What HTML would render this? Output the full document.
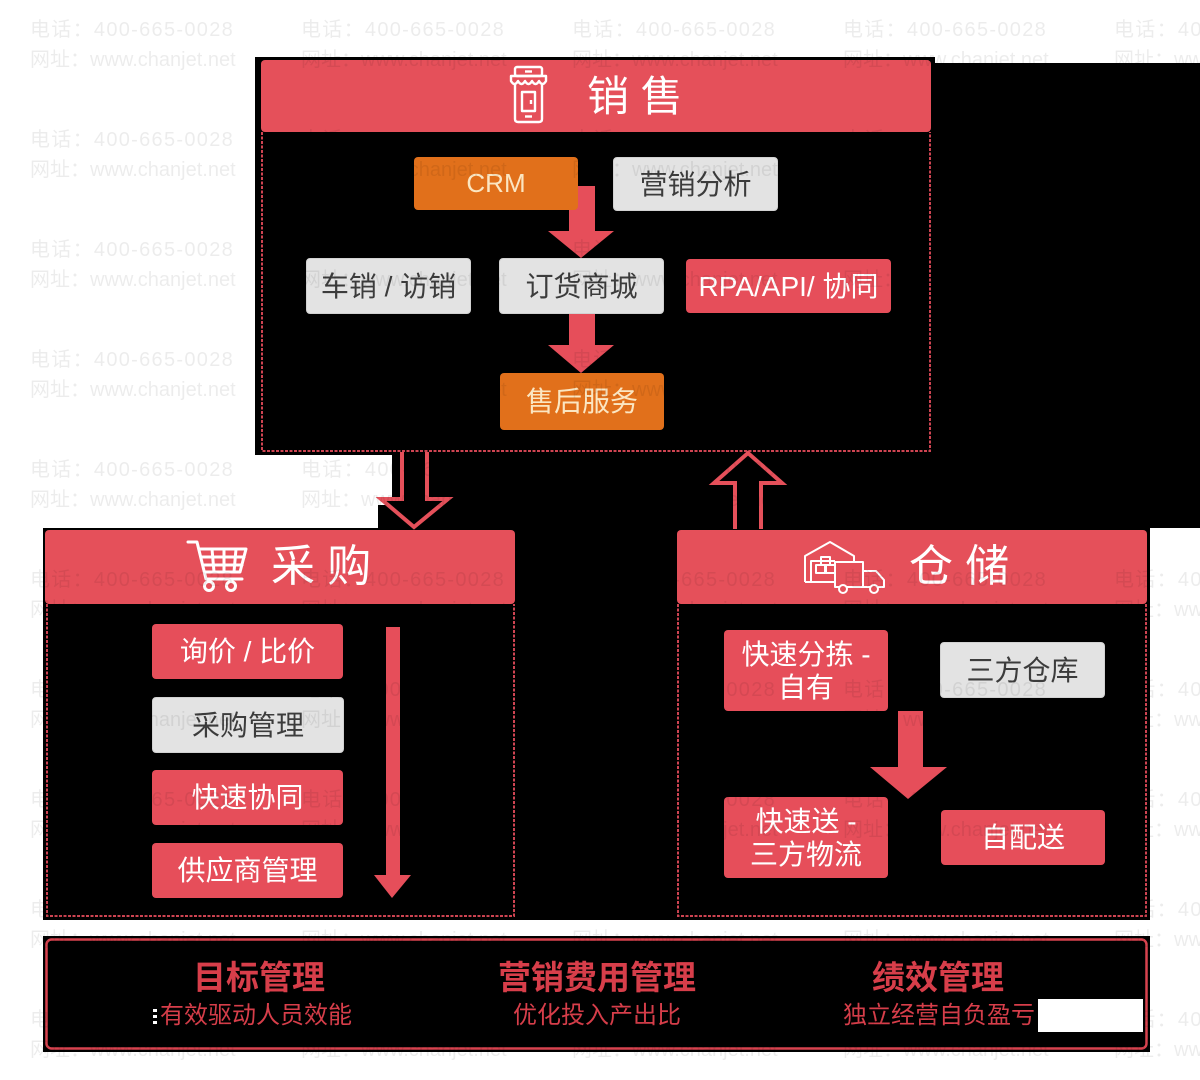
<!DOCTYPE html>
<html><head><meta charset="utf-8">
<style>
*{margin:0;padding:0;box-sizing:border-box}
html,body{width:1200px;height:1080px;overflow:hidden;background:#fff}
body{position:relative;font-family:"Liberation Sans","Noto Sans CJK SC",sans-serif}
svg.bg{position:absolute;left:0;top:0}
.b{position:absolute;display:flex;align-items:center;justify-content:center;text-align:center;border-radius:4px;font-size:28px;line-height:33px;white-space:nowrap}
.g{background:#e3e3e3;color:#3c3c3c;border:1px solid #d2d2d2}
.r{background:#e64e5a;color:#fff}
.o{background:#e1701b;color:#fbe6c2}
.t{position:absolute;color:#fff;font-size:42px;line-height:50px;white-space:nowrap}
.bt{position:absolute;color:#d73e4a;text-align:center;white-space:nowrap;transform:translateX(-50%)}
.bt1{font-size:33px;line-height:40px;font-weight:bold}
.bt2{font-size:24px;line-height:30px}
.wm{position:absolute;top:15px;color:rgba(0,0,0,0.075);font-size:20px;white-space:nowrap}
.wm div{height:110px;line-height:30px}
.wm span{letter-spacing:1.3px}
</style></head>
<body>
<svg class="bg" width="1200" height="1080" viewBox="0 0 1200 1080">
  <!-- black regions -->
  <path d="M255,57 H935 V63 H1200 V528 H1150 V920 H43 V528 H378 V505 H392 V455 H255 Z" fill="#000"/>
  <rect x="43" y="936" width="1107" height="116" fill="#000"/>
  <rect x="46.5" y="939.5" width="1100" height="109" rx="5" fill="none" stroke="#d8434f" stroke-width="2.5"/>

  <!-- sales -->
  <rect x="261" y="60" width="670" height="72" rx="4" fill="#e5505a"/>
  <path d="M262,132 V451 H930 V132" fill="none" stroke="#cf4452" stroke-width="2" stroke-dasharray="3 1.5"/>
  <!-- purchase -->
  <rect x="45" y="530" width="470" height="74" rx="4" fill="#e5505a"/>
  <path d="M47,604 V916 H514 V604" fill="none" stroke="#cf4452" stroke-width="2" stroke-dasharray="3 1.5"/>
  <!-- warehouse -->
  <rect x="677" y="530" width="470" height="74" rx="4" fill="#e5505a"/>
  <path d="M678,604 V916 H1146 V604" fill="none" stroke="#cf4452" stroke-width="2" stroke-dasharray="3 1.5"/>

  <!-- big outline arrows -->
  <polyline points="402,452 402,499 381,499 414,527 448,499 427,499 427,452" fill="#000" stroke="#e5505a" stroke-width="4" stroke-linejoin="miter"/>
  <polyline points="735,529 735,483 714,483 748,453 782,483 761,483 761,529" fill="#000" stroke="#e5505a" stroke-width="4" stroke-linejoin="miter"/>

  <!-- sales arrows -->
  <rect x="569" y="186" width="26" height="46" fill="#e64e5a"/>
  <polygon points="548,231 614,231 581,258" fill="#e64e5a"/>
  <rect x="569" y="313" width="26" height="33" fill="#e64e5a"/>
  <polygon points="548,345 614,345 581,373" fill="#e64e5a"/>

  <!-- purchase arrow -->
  <rect x="386" y="627" width="14" height="249" fill="#e64e5a"/>
  <polygon points="374,875 411,875 392,898" fill="#e64e5a"/>

  <!-- warehouse arrow -->
  <rect x="898" y="711" width="25" height="57" fill="#e64e5a"/>
  <polygon points="870,767 947,767 908,799" fill="#e64e5a"/>

  <!-- sales icon -->
  <g fill="none" stroke="#fff" stroke-width="2.4" stroke-linejoin="round">
    <rect x="515" y="67" width="27" height="9" rx="2"/>
    <line x1="525" y1="71.5" x2="532" y2="71.5"/>
    <path d="M511,76 H546 V81 Q542.5,87 539,81 Q535.5,87 532,81 Q528.5,87 525,81 Q521.5,87 518,81 Q514.5,87 511,81 Z"/>
    <path d="M515,85 V119 Q515,122 518,122 H539 Q542,122 542,119 V85"/>
    <rect x="522" y="92" width="13" height="19"/>
    <line x1="531" y1="100" x2="531" y2="104"/>
    <line x1="525" y1="116.5" x2="532" y2="116.5"/>
  </g>

  <!-- cart icon -->
  <g fill="none" stroke="#fff" stroke-width="3" stroke-linejoin="round" stroke-linecap="round">
    <path d="M188,542 H197 L206,579 H242"/>
    <path d="M199,549 H246 L240,572 H205"/>
    <line x1="212" y1="549" x2="214" y2="572"/>
    <line x1="224" y1="549" x2="224" y2="572"/>
    <line x1="236" y1="549" x2="234" y2="572"/>
    <line x1="201" y1="557" x2="244" y2="557"/>
    <line x1="203" y1="565" x2="242" y2="565"/>
    <circle cx="209" cy="586" r="4.5"/>
    <circle cx="231" cy="586" r="4.5"/>
  </g>

  <!-- warehouse icon -->
  <g fill="none" stroke="#fff" stroke-width="2" stroke-linejoin="round">
    <path d="M805,582 V556 L830,542 L854,556 V562"/>
    <path d="M811,582 V561 H835"/>
    <rect x="816" y="565" width="9" height="8"/>
    <rect x="821" y="557" width="9" height="8"/>
    <rect x="826" y="565" width="9" height="8"/>
    <line x1="805" y1="582" x2="835" y2="582"/>
    <rect x="835" y="562" width="28" height="25"/>
    <path d="M863,571 H876 L884,580 V587 H863"/>
    <circle cx="843" cy="589" r="4" fill="#e5505a"/>
    <circle cx="874" cy="589" r="4" fill="#e5505a"/>
  </g>
</svg>

<!-- header titles -->
<div class="t" style="left:587px;top:72px">销 售</div>
<div class="t" style="left:271px;top:542px;font-size:44px">采 购</div>
<div class="t" style="left:909px;top:542px;font-size:44px">仓 储</div>

<!-- sales boxes -->
<div class="b o" style="left:414px;top:157px;width:164px;height:53px;font-size:26px">CRM</div>
<div class="b g" style="left:613px;top:157px;width:165px;height:54px">营销分析</div>
<div class="b g" style="left:306px;top:258px;width:165px;height:56px">车销 / 访销</div>
<div class="b g" style="left:499px;top:258px;width:165px;height:56px">订货商城</div>
<div class="b r" style="left:686px;top:259px;width:205px;height:54px">RPA/API/ 协同</div>
<div class="b o" style="left:500px;top:373px;width:164px;height:57px">售后服务</div>

<!-- purchase boxes -->
<div class="b r" style="left:152px;top:624px;width:191px;height:55px">询价 / 比价</div>
<div class="b g" style="left:152px;top:697px;width:192px;height:56px">采购管理</div>
<div class="b r" style="left:152px;top:770px;width:191px;height:55px">快速协同</div>
<div class="b r" style="left:152px;top:843px;width:191px;height:55px">供应商管理</div>

<!-- warehouse boxes -->
<div class="b r" style="left:724px;top:630px;width:164px;height:81px">快速分拣 -<br>自有</div>
<div class="b g" style="left:940px;top:642px;width:165px;height:56px">三方仓库</div>
<div class="b r" style="left:724px;top:797px;width:164px;height:81px">快速送 -<br>三方物流</div>
<div class="b r" style="left:941px;top:810px;width:164px;height:55px">自配送</div>

<!-- bottom bar text -->
<div class="bt bt1" style="left:259px;top:958px">目标管理</div>
<div class="bt bt2" style="left:256px;top:1001px">有效驱动人员效能</div>
<div class="bt bt1" style="left:597px;top:958px">营销费用管理</div>
<div class="bt bt2" style="left:597px;top:1001px">优化投入产出比</div>
<div class="bt bt1" style="left:938px;top:958px">绩效管理</div>
<div class="bt bt2" style="left:939px;top:1001px">独立经营自负盈亏</div>

<!-- watermarks -->
<div class="wm" style="left:30px">
<div><span>电话：400-665-0028</span><br>网址：www.chanjet.net</div><div><span>电话：400-665-0028</span><br>网址：www.chanjet.net</div><div><span>电话：400-665-0028</span><br>网址：www.chanjet.net</div><div><span>电话：400-665-0028</span><br>网址：www.chanjet.net</div><div><span>电话：400-665-0028</span><br>网址：www.chanjet.net</div><div><span>电话：400-665-0028</span><br>网址：www.chanjet.net</div><div><span>电话：400-665-0028</span><br>网址：www.chanjet.net</div><div><span>电话：400-665-0028</span><br>网址：www.chanjet.net</div><div><span>电话：400-665-0028</span><br>网址：www.chanjet.net</div><div><span>电话：400-665-0028</span><br>网址：www.chanjet.net</div>
</div>
<div class="wm" style="left:301px">
<div><span>电话：400-665-0028</span><br>网址：www.chanjet.net</div><div><span>电话：400-665-0028</span><br>网址：www.chanjet.net</div><div><span>电话：400-665-0028</span><br>网址：www.chanjet.net</div><div><span>电话：400-665-0028</span><br>网址：www.chanjet.net</div><div><span>电话：400-665-0028</span><br>网址：www.chanjet.net</div><div><span>电话：400-665-0028</span><br>网址：www.chanjet.net</div><div><span>电话：400-665-0028</span><br>网址：www.chanjet.net</div><div><span>电话：400-665-0028</span><br>网址：www.chanjet.net</div><div><span>电话：400-665-0028</span><br>网址：www.chanjet.net</div><div><span>电话：400-665-0028</span><br>网址：www.chanjet.net</div>
</div>
<div class="wm" style="left:572px">
<div><span>电话：400-665-0028</span><br>网址：www.chanjet.net</div><div><span>电话：400-665-0028</span><br>网址：www.chanjet.net</div><div><span>电话：400-665-0028</span><br>网址：www.chanjet.net</div><div><span>电话：400-665-0028</span><br>网址：www.chanjet.net</div><div><span>电话：400-665-0028</span><br>网址：www.chanjet.net</div><div><span>电话：400-665-0028</span><br>网址：www.chanjet.net</div><div><span>电话：400-665-0028</span><br>网址：www.chanjet.net</div><div><span>电话：400-665-0028</span><br>网址：www.chanjet.net</div><div><span>电话：400-665-0028</span><br>网址：www.chanjet.net</div><div><span>电话：400-665-0028</span><br>网址：www.chanjet.net</div>
</div>
<div class="wm" style="left:843px">
<div><span>电话：400-665-0028</span><br>网址：www.chanjet.net</div><div><span>电话：400-665-0028</span><br>网址：www.chanjet.net</div><div><span>电话：400-665-0028</span><br>网址：www.chanjet.net</div><div><span>电话：400-665-0028</span><br>网址：www.chanjet.net</div><div><span>电话：400-665-0028</span><br>网址：www.chanjet.net</div><div><span>电话：400-665-0028</span><br>网址：www.chanjet.net</div><div><span>电话：400-665-0028</span><br>网址：www.chanjet.net</div><div><span>电话：400-665-0028</span><br>网址：www.chanjet.net</div><div><span>电话：400-665-0028</span><br>网址：www.chanjet.net</div><div><span>电话：400-665-0028</span><br>网址：www.chanjet.net</div>
</div>
<div class="wm" style="left:1114px">
<div><span>电话：400-665-0028</span><br>网址：www.chanjet.net</div><div><span>电话：400-665-0028</span><br>网址：www.chanjet.net</div><div><span>电话：400-665-0028</span><br>网址：www.chanjet.net</div><div><span>电话：400-665-0028</span><br>网址：www.chanjet.net</div><div><span>电话：400-665-0028</span><br>网址：www.chanjet.net</div><div><span>电话：400-665-0028</span><br>网址：www.chanjet.net</div><div><span>电话：400-665-0028</span><br>网址：www.chanjet.net</div><div><span>电话：400-665-0028</span><br>网址：www.chanjet.net</div><div><span>电话：400-665-0028</span><br>网址：www.chanjet.net</div><div><span>电话：400-665-0028</span><br>网址：www.chanjet.net</div>
</div>

<!-- white patches -->
<div style="position:absolute;left:1038px;top:999px;width:105px;height:33px;background:#fff"></div>
<div style="position:absolute;left:153px;top:1009px;width:4px;height:3px;background:#fff"></div>
<div style="position:absolute;left:153px;top:1015px;width:4px;height:3px;background:#fff"></div>
<div style="position:absolute;left:153px;top:1021px;width:4px;height:3px;background:#fff"></div>
</body></html>
